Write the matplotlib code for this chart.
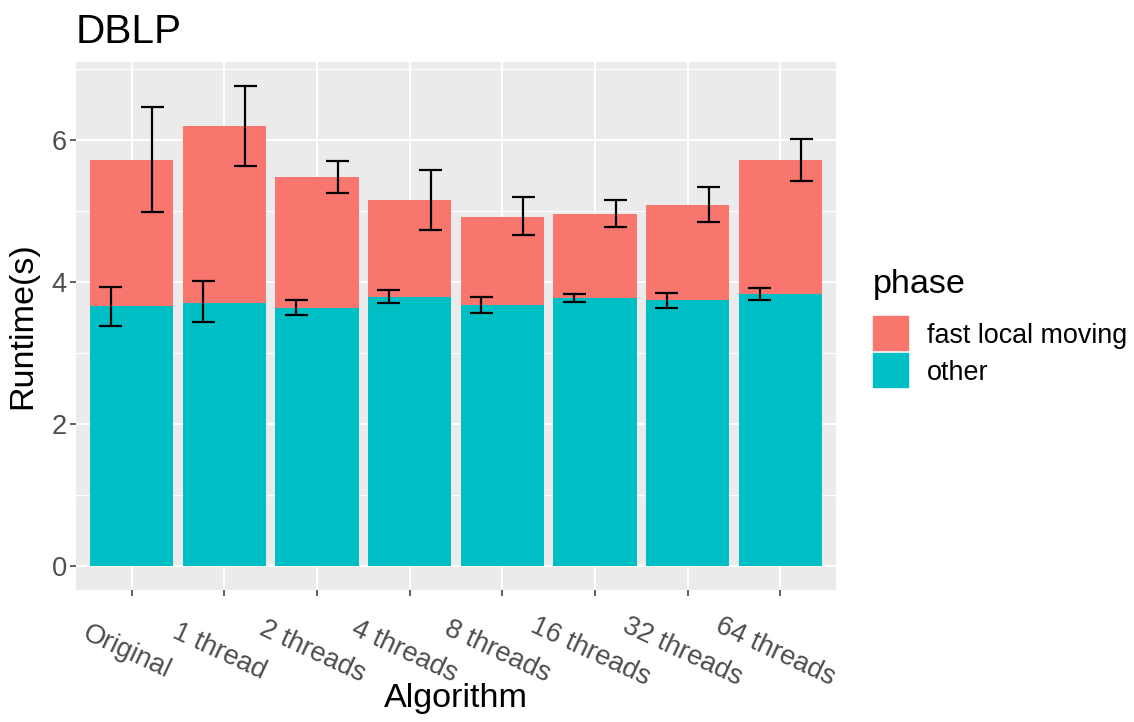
import matplotlib
matplotlib.use("Agg")
import matplotlib.pyplot as plt
import matplotlib.transforms as mtransforms
from matplotlib.patches import Rectangle
import numpy as np

plt.rcParams['font.family'] = ['Liberation Sans', 'DejaVu Sans']

# values
algorithms = ['Original', '1 thread', '2 threads', '4 threads',
              '8 threads', '16 threads', '32 threads', '64 threads']
other = [3.66, 3.71, 3.64, 3.79, 3.68, 3.77, 3.74, 3.83]
total = [5.72, 6.20, 5.48, 5.15, 4.92, 4.96, 5.08, 5.72]
other_lo = [3.38, 3.43, 3.54, 3.70, 3.56, 3.72, 3.63, 3.74]
other_hi = [3.93, 4.01, 3.74, 3.89, 3.79, 3.83, 3.85, 3.92]
total_lo = [4.99, 5.64, 5.25, 4.73, 4.66, 4.78, 4.84, 5.42]
total_hi = [6.46, 6.76, 5.71, 5.58, 5.19, 5.15, 5.34, 6.02]
phases = ['fast local moving', 'other']

red = '#F8766D'
teal = '#00BFC4'

W, H = 1134, 722
fig = plt.figure(figsize=(W / 100, H / 100), dpi=100)
ax = fig.add_axes([76 / W, 1 - 590 / H, (836 - 76) / W, (590 - 62) / H])
ax.set_facecolor('#EBEBEB')

x = np.arange(len(algorithms))
other = np.array(other)
total = np.array(total)
fast = total - other

ax.bar(x, other, width=0.9, color=teal, zorder=2)
ax.bar(x, fast, bottom=other, width=0.9, color=red, zorder=2)

# dodged error bars
dx = 0.225
cap = 0.125
for lo, hi, off in [(other_lo, other_hi, -dx), (total_lo, total_hi, dx)]:
    xs = x + off
    ax.vlines(xs, lo, hi, color='black', lw=1.6, zorder=3)
    ax.hlines(lo, xs - cap, xs + cap, color='black', lw=1.6, zorder=3)
    ax.hlines(hi, xs - cap, xs + cap, color='black', lw=1.6, zorder=3)

ymax = max(total_hi)
ax.set_ylim(-0.05 * ymax, ymax * 1.05)
ax.set_xlim(-0.6, len(algorithms) - 0.4)

ax.set_yticks([0, 2, 4, 6])
ax.set_yticks([1, 3, 5, 7], minor=True)
ax.set_xticks(x)
ax.set_xticklabels(algorithms)

ax.grid(which='major', color='white', lw=1.5, zorder=0)
ax.grid(which='minor', axis='y', color='white', lw=0.8, zorder=0)
ax.set_axisbelow(True)
for s in ax.spines.values():
    s.set_visible(False)

ax.tick_params(axis='both', which='major', length=4.5, width=1.1,
               color='#333333', labelsize=19.6, labelcolor='#4D4D4D')
ax.tick_params(axis='y', which='minor', length=0)
ax.tick_params(axis='y', pad=2)
ax.tick_params(axis='x', pad=40)

shift = mtransforms.ScaledTranslation(-5 / 100, 0, fig.dpi_scale_trans)
for lab in ax.get_xticklabels():
    lab.set_rotation(-25)
    lab.set_rotation_mode('anchor')
    lab.set_ha('center')
    lab.set_va('center')
    lab.set_transform(lab.get_transform() + shift)

fig.text(76 / W, 1 - 42.7 / H, 'DBLP', fontsize=29.2, ha='left', va='baseline')
fig.text(23 / W, 1 - 326 / H, 'Runtime(s)', fontsize=24.6, rotation=90,
         ha='center', va='center')
fig.text(456 / W, 1 - 706.7 / H, 'Algorithm', fontsize=24.6,
         ha='center', va='baseline')

# legend drawn by hand to match ggplot's guide layout
fig.text(873 / W, 1 - 293 / H, 'phase', fontsize=24.6, ha='left', va='baseline')
for i, (name, col) in enumerate(zip(phases, [red, teal])):
    top = 316 + i * 37
    fig.patches.append(Rectangle((873 / W, 1 - (top + 34) / H), 35 / W, 34 / H,
                                 transform=fig.transFigure, color=col))
    fig.text(927 / W, 1 - (top + 17) / H, name, fontsize=19.4,
             ha='left', va='center_baseline')

fig.savefig('out.png', dpi=100)
